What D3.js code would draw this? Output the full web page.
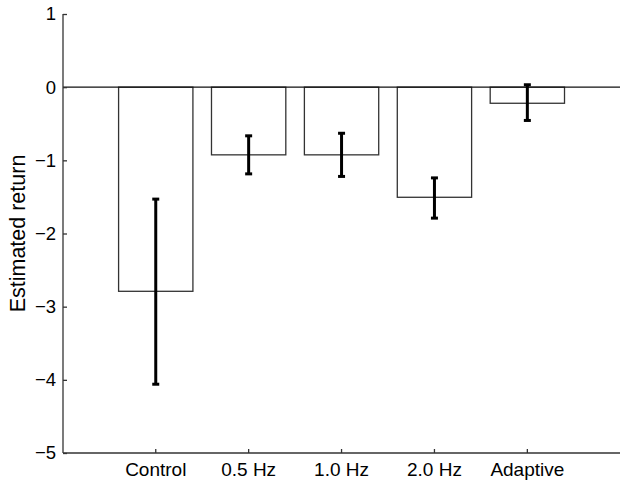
<!DOCTYPE html>
<html>
<head>
<meta charset="utf-8">
<script src="https://cdn.jsdelivr.net/npm/d3@7"></script>
<style>
  body { margin: 0; background: #fff; }
  text { font-family: "Liberation Sans", Arial, sans-serif; }
</style>
</head>
<body>
<svg id="chart" width="629" height="488"></svg>
<script>
// data
let categories = ["Control", "0.5 Hz", "1.0 Hz", "2.0 Hz", "Adaptive"]
let values = [-2.79, -0.925, -0.925, -1.505, -0.22]
let errHigh = [-1.53, -0.665, -0.63, -1.24, 0.033]
let errLow = [-4.06, -1.185, -1.22, -1.79, -0.455]
let yTicks = [-5, -4, -3, -2, -1, 0, 1]

let margin = { left: 63, right: 9, top: 14, bottom: 35 }
let width = 629
let height = 488

let svg = d3.select("#chart")

let x = d3.scaleBand()
    .domain(categories)
    .range([109.3, 573.8])
    .paddingInner(0.2)
    .paddingOuter(0.1)

let y = d3.scaleLinear()
    .domain([-5, 1])
    .range([height - margin.bottom, margin.top])

let fmt = d => d < 0 ? "\u2212" + Math.abs(d) : "" + d

// bars
svg.append("g")
    .selectAll("rect")
    .data(values)
    .enter()
    .append("rect")
    .attr("x", (d, i) => x(categories[i]))
    .attr("y", d => y(Math.max(0, d)))
    .attr("width", x.bandwidth())
    .attr("height", d => Math.abs(y(d) - y(0)))
    .attr("fill", "white")
    .attr("stroke", "#333")
    .attr("stroke-width", 1.3)

// zero line
svg.append("line")
    .attr("x1", margin.left)
    .attr("x2", width - margin.right)
    .attr("y1", y(0))
    .attr("y2", y(0))
    .attr("stroke", "#111")
    .attr("stroke-width", 1.3)

// error bars
let eg = svg.append("g").attr("stroke", "black").attr("stroke-width", 3)
categories.forEach((c, i) => {
    let cx = x(c) + x.bandwidth() / 2
    eg.append("line")
        .attr("x1", cx).attr("x2", cx)
        .attr("y1", y(errHigh[i])).attr("y2", y(errLow[i]))
    eg.append("line")
        .attr("x1", cx - 3.5).attr("x2", cx + 3.5)
        .attr("y1", y(errHigh[i])).attr("y2", y(errHigh[i]))
    eg.append("line")
        .attr("x1", cx - 3.5).attr("x2", cx + 3.5)
        .attr("y1", y(errLow[i])).attr("y2", y(errLow[i]))
})

// y axis
let yAxis = svg.append("g")
    .attr("transform", `translate(${margin.left},0)`)
    .call(d3.axisLeft(y).tickValues(yTicks).tickSize(-4).tickPadding(7).tickFormat(fmt))
yAxis.select(".domain").attr("d", `M0,${y(1)}V${y(-5)}`).attr("stroke", "#333").attr("stroke-width", 1.3)
yAxis.selectAll(".tick line").attr("stroke", "#333").attr("stroke-width", 1.3)
yAxis.selectAll("text").attr("font-size", 18.5).attr("fill", "black")

// x axis
let xAxis = svg.append("g")
    .attr("transform", `translate(0,${y(-5)})`)
    .call(d3.axisBottom(x).tickSize(-4).tickPadding(10))
xAxis.select(".domain").attr("d", `M${margin.left},0H${width - margin.right}`).attr("stroke", "#333").attr("stroke-width", 1.3)
xAxis.selectAll(".tick line").attr("stroke", "#333").attr("stroke-width", 1.3)
xAxis.selectAll("text").attr("font-size", 19).attr("fill", "black")

// y label
svg.append("text")
    .attr("transform", `translate(25,${(y(1) + y(-5)) / 2}) rotate(-90)`)
    .attr("text-anchor", "middle")
    .attr("font-size", 21.5)
    .text("Estimated return")
</script>
</body>
</html>
